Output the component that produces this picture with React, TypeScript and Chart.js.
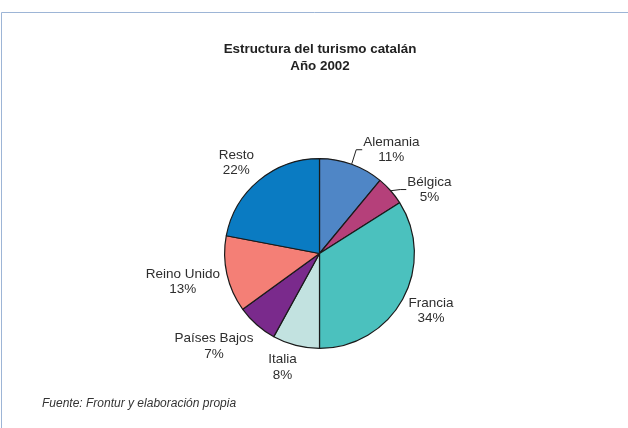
import React, { useEffect, useRef } from "react";
import { Chart, registerables } from "chart.js";

Chart.register(...registerables);

const categories = ["Alemania", "Bélgica", "Francia", "Italia", "Países Bajos", "Reino Unido", "Resto"];
const shares = [11, 5, 34, 8, 7, 13, 22];
const sliceColors = ["#4f86c6", "#b5407a", "#4bc1be", "#c2e2e0", "#7a2a8c", "#f47f76", "#0a7bc2"];
const titleLines = ["Estructura del turismo catalán", "Año 2002"];
const sourceNote = "Fuente: Frontur y elaboración propia";

// label placement (polar, angle in degrees clockwise from top, distance in radii)
const labelPlacement = [
  { angle: 34.7, dist: 1.33, leader: true },
  { angle: 59.8, dist: 1.34, leader: true },
  { angle: 117.0, dist: 1.32, leader: false },
  { angle: 198.0, dist: 1.26, leader: false },
  { angle: 228.7, dist: 1.48, leader: false },
  { angle: 258.4, dist: 1.47, leader: false },
  { angle: 317.6, dist: 1.3, leader: false },
];

const FONT = "'Liberation Sans', Arial, Helvetica, sans-serif";

const decorPlugin = {
  id: "decor",
  afterDraw(chart: any) {
    const ctx = chart.ctx as CanvasRenderingContext2D;
    const W = chart.width;
    const H = chart.height;
    ctx.save();
    // frame
    ctx.strokeStyle = "#9db5d6";
    ctx.lineWidth = 1;
    ctx.beginPath();
    ctx.moveTo(W, 12.5);
    ctx.lineTo(1.5, 12.5);
    ctx.lineTo(1.5, H);
    ctx.stroke();

    // title
    ctx.fillStyle = "#222";
    ctx.textAlign = "center";
    ctx.textBaseline = "middle";
    ctx.font = `bold 13.4px ${FONT}`;
    ctx.fillText(titleLines[0], 320, 49);
    ctx.fillText(titleLines[1], 320, 66);

    // footer
    ctx.fillStyle = "#333";
    ctx.textAlign = "left";
    ctx.font = `italic 12px ${FONT}`;
    ctx.fillText(sourceNote, 42, 404);

    // labels
    const meta = chart.getDatasetMeta(0);
    ctx.font = `13.5px ${FONT}`;
    meta.data.forEach((arc: any, i: number) => {
      const p = arc.getProps(["x", "y", "startAngle", "endAngle", "outerRadius"], true);
      const place = labelPlacement[i];
      const a = (place.angle * Math.PI) / 180;
      const cx = p.x + Math.sin(a) * p.outerRadius * place.dist;
      const cy = p.y - Math.cos(a) * p.outerRadius * place.dist;
      const line1 = categories[i];
      const line2 = shares[i] + "%";
      ctx.fillStyle = "#2e2e2e";
      ctx.textAlign = "center";
      ctx.textBaseline = "middle";
      ctx.fillText(line1, cx, cy - 7.5);
      ctx.fillText(line2, cx, cy + 8);
      if (place.leader) {
        const mid = (p.startAngle + p.endAngle) / 2;
        const ex = p.x + Math.cos(mid) * p.outerRadius;
        const ey = p.y + Math.sin(mid) * p.outerRadius;
        const w = Math.max(ctx.measureText(line1).width, ctx.measureText(line2).width);
        const left = cx - w / 2;
        ctx.strokeStyle = "#222";
        ctx.lineWidth = 1;
        ctx.beginPath();
        ctx.moveTo(ex, ey);
        ctx.lineTo(left - 7, cy);
        ctx.lineTo(left - 1, cy);
        ctx.stroke();
      }
    });
    ctx.restore();
  },
};

export default function App() {
  const ref = useRef<HTMLCanvasElement | null>(null);
  useEffect(() => {
    if (!ref.current) return;
    const chart = new Chart(ref.current, {
      type: "pie",
      data: {
        labels: categories,
        datasets: [
          {
            data: shares,
            backgroundColor: sliceColors,
            borderColor: "#1a1a1a",
            borderWidth: 1.2,
          },
        ],
      },
      options: {
        responsive: false,
        animation: false,
        layout: { padding: { left: 224, right: 213, top: 158, bottom: 79 } },
        plugins: {
          legend: { display: false },
          tooltip: { enabled: false },
          title: { display: false },
        },
      },
      plugins: [decorPlugin],
    });
    return () => chart.destroy();
  }, []);
  return (
    <div style={{ position: "absolute", left: 0, top: 0, width: 628, height: 428, background: "#fff" }}>
      <canvas ref={ref} width={628} height={428} style={{ width: 628, height: 428 }} />
    </div>
  );
}
